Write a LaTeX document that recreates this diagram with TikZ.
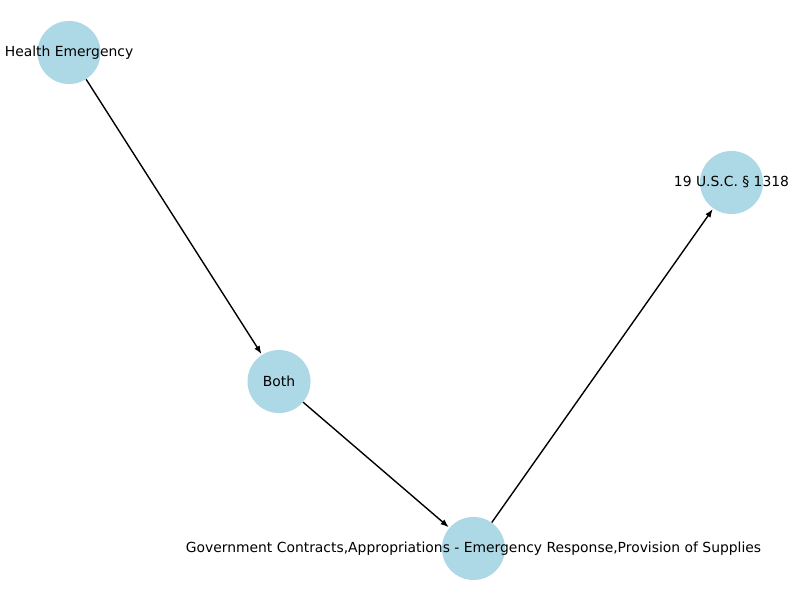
\documentclass[tikz,border=0pt]{standalone}
\usepackage{fontspec}
\setmainfont{DejaVu Sans}
\usetikzlibrary{arrows.meta}
\definecolor{nodeblue}{HTML}{ADD8E6}
\begin{document}
\begin{tikzpicture}[x=1pt,y=1pt,
  dot/.style={circle,fill=nodeblue,draw=none,minimum size=45.4pt,inner sep=0pt},
  lab/.style={font=\fontsize{10pt}{12pt}\selectfont,inner sep=0pt,text=black},
  edge/.style={draw=black,line width=1pt,-{Latex[length=6pt,width=4.5pt]},shorten >=0.5pt}]
\useasboundingbox (0,0) rectangle (576,432);
\node[dot] (h) at (49.7,394.2) {};
\node[dot] (b) at (200.9,157.3) {};
\node[dot] (g) at (340.9,37.1) {};
\node[dot] (u) at (526.7,300.6) {};
\node[lab] (hl) at (h) {Health Emergency};
\node[lab] (bl) at (b) {Both};
\node[lab] (gl) at (g) {Government Contracts,Appropriations - Emergency Response,Provision of Supplies};
\node[lab] (ul) at (u) {19 U.S.C. § 1318};
\draw[edge] (h) -- (b);
\draw[edge] (b) -- (g);
\draw[edge] (g) -- (u);
\end{tikzpicture}
\end{document}
